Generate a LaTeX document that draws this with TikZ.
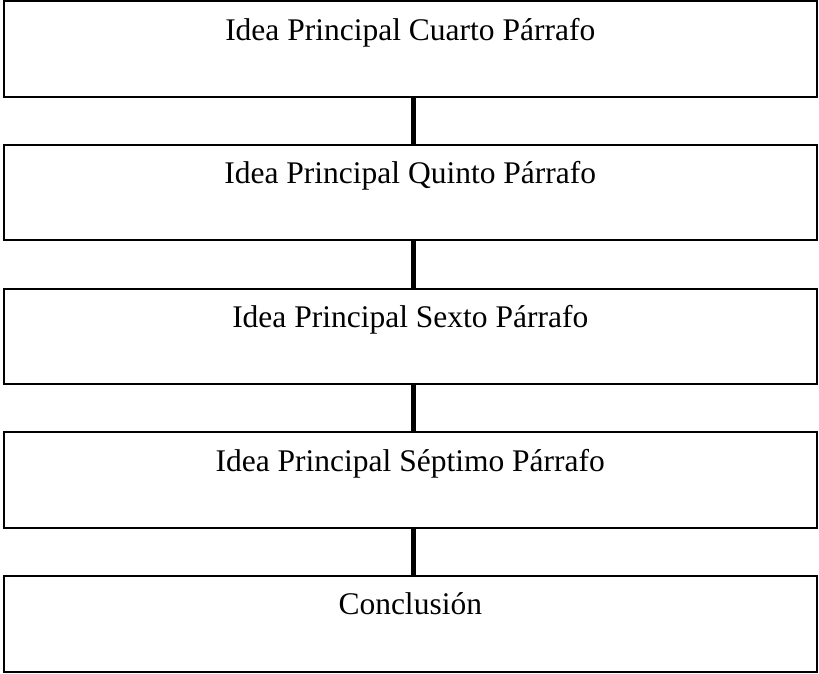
\documentclass[tikz,border=0pt]{standalone}
\usepackage{fontspec}
\setmainfont{Liberation Serif}
\usetikzlibrary{positioning}

\begin{document}
\begin{tikzpicture}[
    x=1pt, y=1pt,
    node distance=48.2pt,
    idea/.style={rectangle, draw, line width=2pt, outer sep=0pt, inner sep=0pt, minimum width=813.5pt, text height=38.8pt, text depth=56.7pt, font=\fontsize{31.5}{37}\selectfont},
    link/.style={draw, line width=5pt}
]
    \useasboundingbox (0,0) rectangle (819,-673);

    % Nodes
    \node [idea, anchor=north] (cuarto) at (410.25,-1.2) {Idea Principal Cuarto Párrafo};
    \node [idea, below=of cuarto] (quinto) {Idea Principal Quinto Párrafo};
    \node [idea, below=of quinto] (sexto) {Idea Principal Sexto Párrafo};
    \node [idea, below=of sexto] (septimo) {Idea Principal Séptimo Párrafo};
    \node [idea, below=of septimo] (conclusion) {Conclusión};

    % Paths
    \path [link] ([xshift=3pt]cuarto.south) -- ([xshift=3pt]quinto.north);
    \path [link] ([xshift=3pt]quinto.south) -- ([xshift=3pt]sexto.north);
    \path [link] ([xshift=3pt]sexto.south) -- ([xshift=3pt]septimo.north);
    \path [link] ([xshift=3pt]septimo.south) -- ([xshift=3pt]conclusion.north);
\end{tikzpicture}
\end{document}
